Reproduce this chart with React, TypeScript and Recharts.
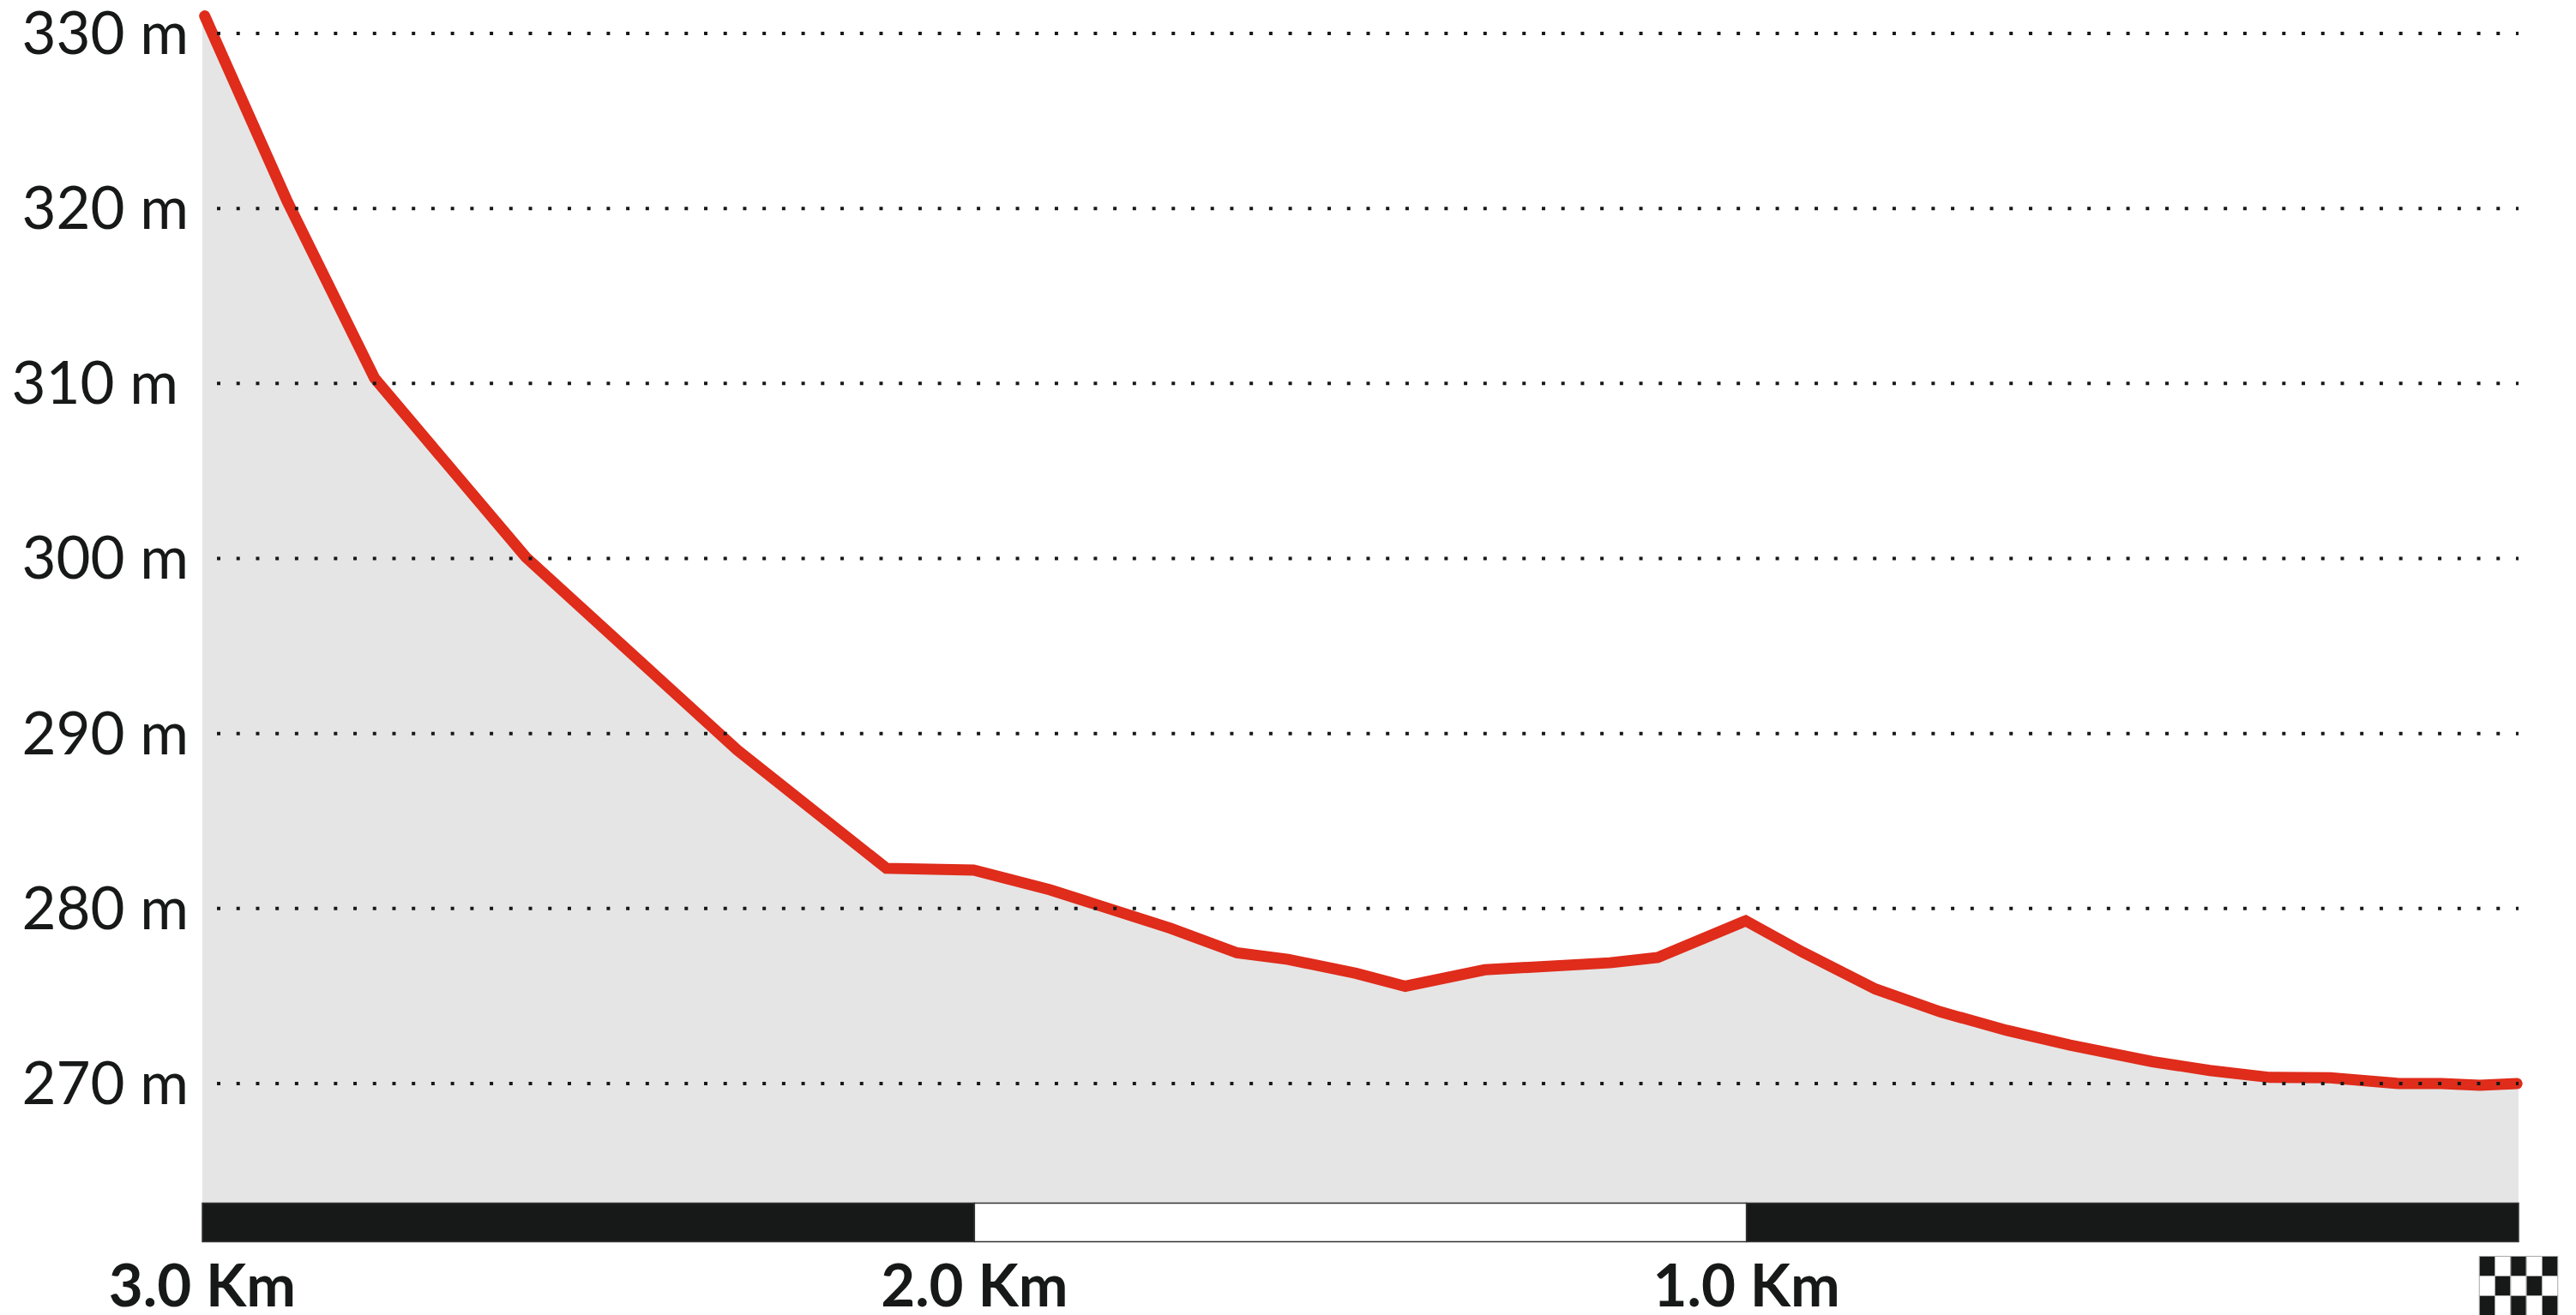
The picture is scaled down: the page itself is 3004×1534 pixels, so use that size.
// App.tsx
import React from "react";
import {
  ComposedChart,
  Area,
  Line,
  XAxis,
  YAxis,
  ReferenceArea,
  ReferenceLine,
} from "recharts";

// Distance to go (km) and altitude (m)
const kmToGo = [
  2.997, 2.89, 2.777, 2.581, 2.307, 2.114, 2.001, 1.902, 1.746, 1.66, 1.594, 1.506, 1.442, 1.339, 1.177,
  1.115, 1.001, 0.927, 0.833, 0.749, 0.663, 0.581, 0.474, 0.4, 0.322, 0.244, 0.155, 0.1, 0.05, 0.002,
];
const altitude = [
  331.0, 320.4, 310.3, 300.07, 289.05, 282.3, 282.2, 281.07, 278.87, 277.47, 277.1, 276.3, 275.56, 276.5, 276.9,
  277.2, 279.3, 277.5, 275.4, 274.1, 273.04, 272.2, 271.25, 270.75, 270.35, 270.33, 270.0, 270.0, 269.9, 270.0,
];

const altitudeTicks = [270, 280, 290, 300, 310, 320, 330];
const kmTicks = [3, 2, 1, 0];

// Kilometre band under the profile: black, white, black
const bandStarts = [3, 2, 1];
const bandEnds = [2, 1, 0];
const bandFills = ["#171918", "#ffffff", "#171918"];

const lineData = kmToGo.map((km, i) => ({ km, alt: altitude[i] }));
const areaData = [{ km: 3, alt: 331 }, ...lineData, { km: 0, alt: 270 }];

const INK = "#171918";
const FONT = "Lato, sans-serif";

// the 310 label sits a bit further left in the original
const YTick = ({ x, y, payload }: any) => (
  <text
    x={payload.value === 310 ? x - 12 : x}
    y={y}
    dy={24}
    textAnchor="end"
    fontFamily={FONT}
    fontSize={69}
    fill={INK}
  >
    {payload.value} m
  </text>
);

const FLAG_COLS = 5;
const FLAG_ROWS = 3;
const CELL_W = 18.3;
const CELL_H = 23;

const XTick = ({ x, y, payload }: any) => {
  if (payload.value === 0) {
    const cells = [];
    for (let r = 0; r < FLAG_ROWS; r++) {
      for (let c = 0; c < FLAG_COLS; c++) {
        cells.push(
          <rect
            key={`${r}-${c}`}
            x={x - (FLAG_COLS * CELL_W) / 2 + c * CELL_W}
            y={y + 15.5 + r * CELL_H}
            width={CELL_W}
            height={CELL_H}
            fill={(r + c) % 2 === 0 ? INK : "#ffffff"}
            stroke="#a8a8a8"
            strokeWidth={1}
          />
        );
      }
    }
    return <g>{cells}</g>;
  }
  return (
    <text x={x} y={y} dy={74} textAnchor="middle" fontFamily={FONT} fontWeight={700} fontSize={69} fill={INK}>
      {payload.value.toFixed(1)} Km
    </text>
  );
};

const App = () => {
  return (
    <div style={{ position: "absolute", left: 0, top: 0, background: "#ffffff" }}>
      <ComposedChart width={3004} height={1534} margin={{ top: 10, right: 67, bottom: 0, left: 0 }}>
        <XAxis
          type="number"
          dataKey="km"
          domain={[0, 3]}
          reversed
          ticks={kmTicks}
          interval={0}
          tick={<XTick />}
          tickLine={false}
          axisLine={false}
          tickSize={0}
          tickMargin={0}
          height={84}
        />
        <YAxis
          type="number"
          domain={[260.89, 331.42]}
          ticks={altitudeTicks}
          interval={0}
          tick={<YTick />}
          tickLine={false}
          axisLine={false}
          tickSize={0}
          tickMargin={16}
          width={236}
        />
        <Area
          data={areaData}
          dataKey="alt"
          type="linear"
          baseValue={263.19}
          fill="#e5e5e5"
          fillOpacity={1}
          stroke="none"
          dot={false}
          activeDot={false}
          isAnimationActive={false}
        />
        <Line
          data={lineData}
          dataKey="alt"
          type="linear"
          stroke="#df2c1b"
          strokeWidth={13}
          strokeLinecap="round"
          strokeLinejoin="miter"
          dot={false}
          activeDot={false}
          isAnimationActive={false}
        />
        {altitudeTicks.map((alt) => (
          <ReferenceLine
            key={alt}
            y={alt}
            stroke={INK}
            strokeWidth={4}
            strokeDasharray="4 18.72"
            strokeDashoffset={-17}
          />
        ))}
        {bandStarts.map((start, i) => (
          <ReferenceArea
            key={start}
            x1={start}
            x2={bandEnds[i]}
            y1={260.96}
            y2={263.17}
            fill={bandFills[i]}
            fillOpacity={1}
            stroke="#333333"
            strokeWidth={1.5}
          />
        ))}
      </ComposedChart>
    </div>
  );
};

export default App;
